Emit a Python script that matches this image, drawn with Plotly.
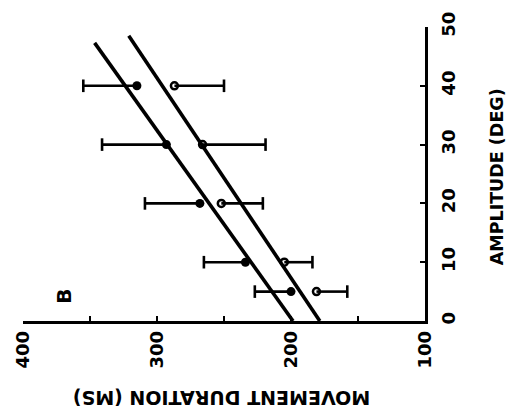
import plotly.graph_objects as go

# Amplitude conditions (deg)
amplitude = [5, 10, 20, 30, 40]

# Mean movement duration (ms) and SD for the two conditions
dur_filled = [200, 234, 268, 293, 315]
sd_filled = [27, 31, 41, 48, 40]
dur_open = [181, 205, 252, 266, 287]
sd_open = [23, 21, 31, 47, 37]

# Linear fits: duration = intercept + slope * amplitude
fit_filled = {"intercept": 198.5, "slope": 3.13, "amp_max": 47.3}
fit_open = {"intercept": 178.5, "slope": 2.94, "amp_max": 48.5}

dur_ticks = [400, 350, 300, 250, 200, 150, 100]
dur_ticktext = ["400", "", "300", "", "200", "", "100"]
amp_ticks = [0, 10, 20, 30, 40, 50]

FONT = "DejaVu Sans"


def whiskers(means, sds, amps, sign):
    """One-sided error bars: a segment from the mean plus an end cap."""
    xs, ys, cx = [], [], []
    for m, s, a in zip(means, sds, amps):
        end = m + sign * s
        xs += [m, end, None]
        ys += [a, a, None]
        cx.append(end)
    return xs, ys, cx


fig = go.Figure()

for fit in (fit_filled, fit_open):
    a = [0, fit["amp_max"]]
    d = [fit["intercept"] + fit["slope"] * v for v in a]
    fig.add_trace(go.Scatter(x=d, y=a, mode="lines",
                             line=dict(color="black", width=3.6),
                             hoverinfo="skip", showlegend=False))

# filled condition: bars toward longer durations; open: toward shorter
for means, sds, sign in ((dur_filled, sd_filled, 1), (dur_open, sd_open, -1)):
    xs, ys, cx = whiskers(means, sds, amplitude, sign)
    fig.add_trace(go.Scatter(x=xs, y=ys, mode="lines",
                             line=dict(color="black", width=2.6),
                             hoverinfo="skip", showlegend=False))
    fig.add_trace(go.Scatter(x=cx, y=amplitude, mode="markers",
                             marker=dict(symbol="line-ns", size=9,
                                         line=dict(color="black", width=2.6)),
                             hoverinfo="skip", showlegend=False))

fig.add_trace(go.Scatter(
    x=dur_filled, y=amplitude, mode="markers",
    marker=dict(symbol="circle", size=9, color="black"),
    showlegend=False))

fig.add_trace(go.Scatter(
    x=dur_open, y=amplitude, mode="markers",
    marker=dict(symbol="circle-open", size=7, color="black",
                line=dict(width=2.5)),
    showlegend=False))

tickfont = dict(family=FONT, size=18, color="black", weight="bold")

fig.update_xaxes(range=[400, 100], tickvals=dur_ticks, ticktext=dur_ticktext,
                 tickangle=-90, ticks="inside", ticklen=5, tickwidth=2,
                 tickcolor="black", showline=True, linecolor="black",
                 linewidth=2.5, showgrid=False, zeroline=False,
                 tickfont=tickfont)
fig.update_yaxes(range=[0, 50], tickvals=amp_ticks, side="right",
                 tickangle=-90, ticks="inside", ticklen=5, tickwidth=2,
                 tickcolor="black", showline=True, linecolor="black",
                 linewidth=2.5, showgrid=False, zeroline=False,
                 ticklabelstandoff=6, tickfont=tickfont)

fig.add_annotation(text="<b>MOVEMENT DURATION (MS)</b>", xref="paper", yref="paper",
                   x=0.494, y=-0.262, xanchor="center", yanchor="middle",
                   textangle=180, showarrow=False,
                   font=dict(family=FONT, size=19, color="black"))
fig.add_annotation(text="<b>AMPLITUDE (DEG)</b>", xref="paper", yref="paper",
                   x=1.18, y=0.49, xanchor="center", yanchor="middle",
                   textangle=-90, showarrow=False,
                   font=dict(family=FONT, size=17.5, color="black"))
fig.add_annotation(text="<b>B</b>", xref="x", yref="y", x=369, y=4.2,
                   textangle=-90, showarrow=False,
                   font=dict(family=FONT, size=20, color="black"))

fig.update_layout(width=508, height=420,
                  margin=dict(l=20, r=83, t=20, b=99),
                  paper_bgcolor="white", plot_bgcolor="white")

fig.write_html("out.html")
